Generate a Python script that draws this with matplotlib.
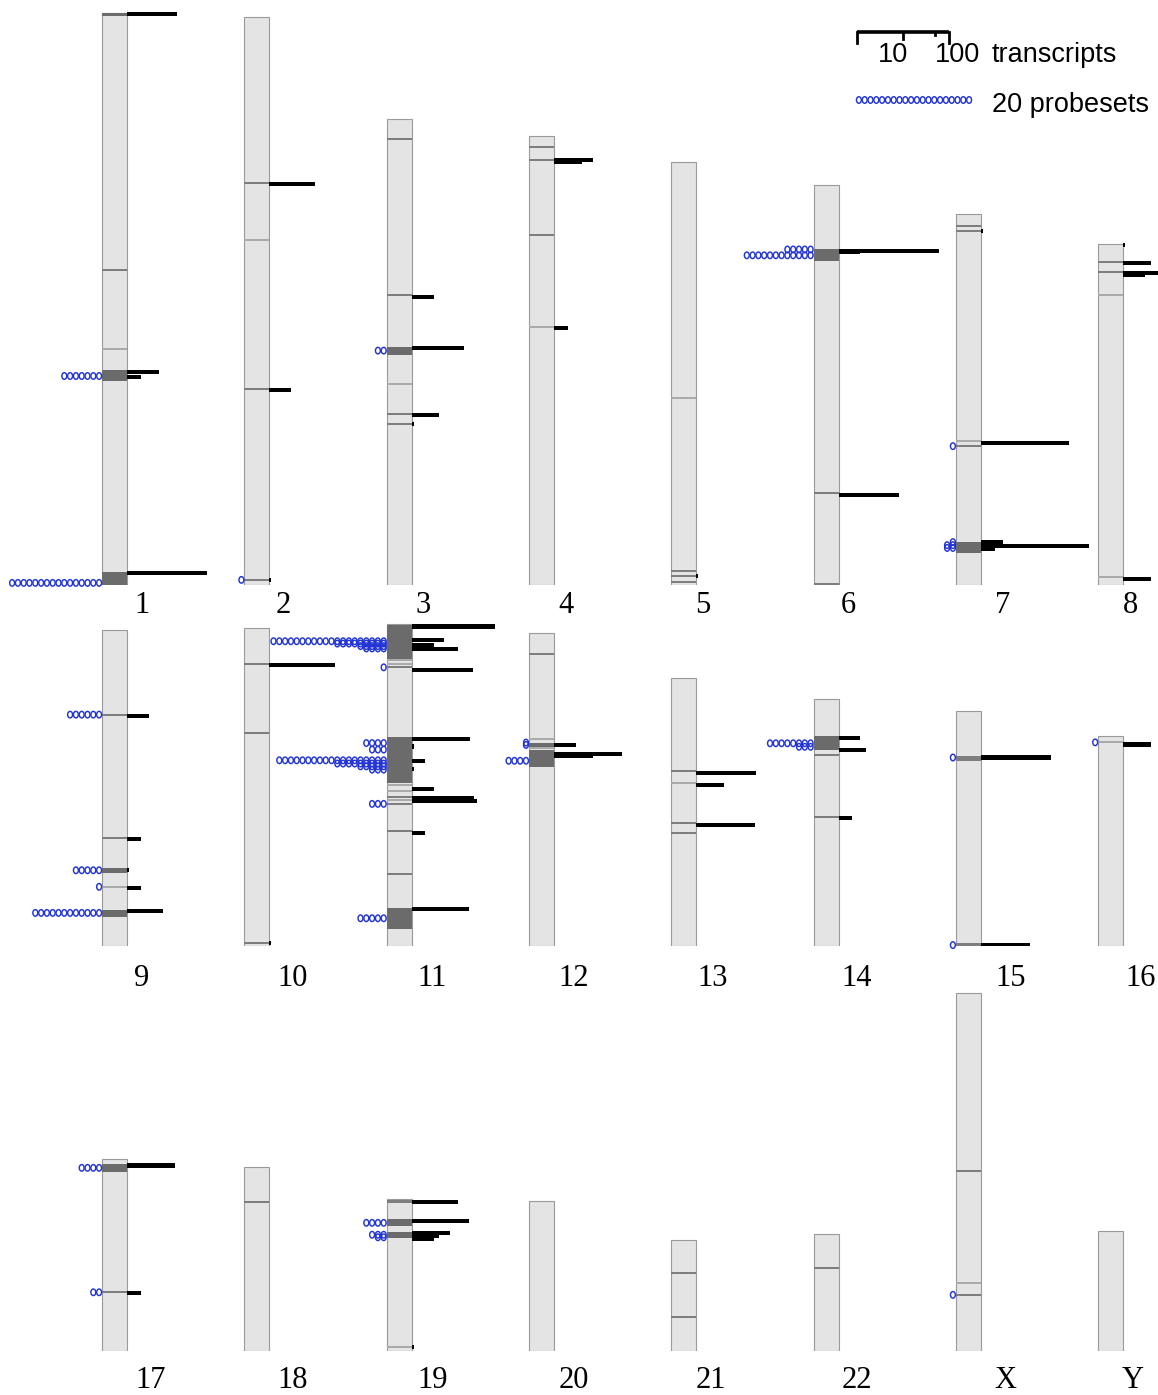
import numpy as np
import matplotlib
matplotlib.use('Agg')
import matplotlib.pyplot as plt
from matplotlib.path import Path
from matplotlib.transforms import Affine2D

# ---- data: chromosome sizes (Mb) and mapped loci (Mb from the top / p-ter) ----
CHROMS = ['1', '2', '3', '4', '5', '6', '7', '8',
          '9', '10', '11', '12', '13', '14', '15', '16',
          '17', '18', '19', '20', '21', '22', 'X', 'Y']
CHROM_LEN_MB = [245.5, 243.8, 200.0, 192.7, 181.5, 171.7, 159.2, 146.4,
                135.6, 136.5, 138.2, 134.3, 115.0, 106.0, 100.9, 90.1,
                82.4, 79.0, 65.2, 64.4, 47.6, 50.2, 153.6, 51.5]

# (chrom, start, end, tone)  tone: d = dark block, m = mid grey line, l = light line
BANDS = [
    ('1', 0, 1.3, 'd'), ('1', 110.3, 110.3, 'm'), ('1', 144.2, 144.2, 'l'),
    ('1', 153.2, 157.9, 'd'), ('1', 239.9, 245.5, 'd'),
    ('2', 71.4, 71.4, 'm'), ('2', 95.7, 95.7, 'l'), ('2', 159.8, 159.8, 'm'), ('2', 241.6, 241.6, 'm'),
    ('3', 8.7, 8.7, 'm'), ('3', 75.5, 75.5, 'm'), ('3', 97.7, 101.3, 'd'), ('3', 113.9, 113.9, 'l'),
    ('3', 126.7, 126.7, 'm'), ('3', 130.9, 130.9, 'm'),
    ('4', 4.9, 4.9, 'm'), ('4', 10.3, 10.3, 'm'), ('4', 42.4, 42.4, 'm'), ('4', 81.8, 81.8, 'l'),
    ('5', 101.3, 101.3, 'l'), ('5', 175.5, 175.5, 'm'), ('5', 177.7, 177.7, 'm'), ('5', 180.3, 180.3, 'm'),
    ('6', 27.5, 32.5, 'd'), ('6', 132.3, 132.3, 'm'), ('6', 171.0, 171.7, 'm'),
    ('7', 5.1, 5.1, 'm'), ('7', 7.1, 7.1, 'm'), ('7', 97.6, 97.6, 'l'), ('7', 99.6, 99.6, 'm'),
    ('7', 140.6, 145.6, 'd'),
    ('8', 7.6, 7.6, 'm'), ('8', 12.1, 12.1, 'm'), ('8', 21.8, 21.8, 'l'), ('8', 143.1, 143.1, 'l'),
    ('9', 36.3, 36.3, 'm'), ('9', 89.1, 89.1, 'm'), ('9', 102.0, 104.1, 'd'), ('9', 110.2, 110.2, 'l'),
    ('9', 120.3, 123.2, 'd'),
    ('10', 15.5, 15.5, 'm'), ('10', 45.2, 45.2, 'm'), ('10', 135.3, 135.3, 'm'),
    ('11', 0.4, 15.1, 'd'), ('11', 15.6, 15.6, 'l'), ('11', 17.3, 17.3, 'l'), ('11', 18.6, 18.6, 'm'),
    ('11', 48.4, 68.1, 'd'), ('11', 69.3, 69.3, 'l'), ('11', 71.7, 71.7, 'l'), ('11', 74.2, 74.2, 'm'),
    ('11', 75.6, 75.6, 'l'), ('11', 77.1, 77.1, 'm'), ('11', 89.0, 89.0, 'm'), ('11', 107.1, 107.1, 'm'),
    ('11', 121.7, 130.7, 'd'),
    ('12', 8.9, 8.9, 'm'), ('12', 45.6, 45.6, 'l'), ('12', 47.3, 49.2, 'd'), ('12', 49.5, 49.5, 'l'),
    ('12', 50.2, 57.4, 'd'),
    ('13', 40.1, 40.1, 'm'), ('13', 45.1, 45.1, 'l'), ('13', 62.3, 62.3, 'm'), ('13', 66.3, 66.3, 'm'),
    ('14', 15.9, 21.9, 'd'), ('14', 24.0, 24.0, 'm'), ('14', 50.5, 50.5, 'm'),
    ('15', 19.3, 21.3, 'm'), ('15', 99.7, 100.9, 'm'),
    ('16', 2.7, 2.7, 'l'),
    ('17', 2.1, 5.4, 'd'), ('17', 57.2, 57.2, 'm'),
    ('18', 15.0, 15.0, 'm'),
    ('19', 0.4, 1.7, 'm'), ('19', 8.6, 11.6, 'd'), ('19', 14.3, 16.9, 'd'), ('19', 62.9, 63.9, 'l'),
    ('21', 14.3, 14.3, 'm'), ('21', 33.2, 33.2, 'm'),
    ('22', 14.5, 14.5, 'm'),
    ('X', 76.3, 76.3, 'm'), ('X', 124.5, 124.5, 'l'), ('X', 129.5, 129.5, 'm'),
]

# (chrom, position, number of transcripts)
TRANSCRIPTS = [
    ('1', 0.6, 12), ('1', 154.1, 5), ('1', 156.2, 2), ('1', 240.3, 55),
    ('2', 71.7, 10), ('2', 160.1, 3), ('2', 241.6, 1),
    ('3', 76.3, 3), ('3', 98.4, 14), ('3', 127.0, 4), ('3', 130.9, 1),
    ('4', 10.3, 7), ('4', 11.3, 4), ('4', 82.4, 2),
    ('5', 177.7, 1),
    ('6', 28.3, 150), ('6', 28.9, 3), ('6', 133.0, 21),
    ('7', 7.1, 1), ('7', 98.3, 82), ('7', 141.0, 3), ('7', 142.4, 224), ('7', 143.6, 2),
    ('8', 0.4, 1), ('8', 8.2, 4), ('8', 12.6, 8), ('8', 13.3, 3), ('8', 143.8, 4),
    ('9', 36.8, 3), ('9', 89.7, 2), ('9', 103.1, 1), ('9', 110.6, 2), ('9', 120.7, 6),
    ('10', 15.9, 27), ('10', 135.3, 1),
    ('11', 1.1, 64), ('11', 6.9, 5), ('11', 9.1, 3), ('11', 10.6, 10), ('11', 19.6, 22),
    ('11', 49.2, 19), ('11', 52.6, 1), ('11', 58.9, 2), ('11', 62.3, 1), ('11', 70.7, 3),
    ('11', 74.6, 23), ('11', 76.0, 26), ('11', 89.6, 2), ('11', 122.4, 18),
    ('12', 48.1, 3), ('12', 51.9, 30), ('12', 52.8, 7),
    ('13', 40.6, 20), ('13', 45.8, 4), ('13', 63.0, 19),
    ('14', 16.7, 3), ('14', 22.0, 4), ('14', 51.1, 2),
    ('15', 20.0, 33), ('15', 100.5, 12),
    ('16', 3.6, 4),
    ('17', 2.8, 11), ('17', 57.6, 2),
    ('19', 1.4, 10), ('19', 9.4, 18), ('19', 14.7, 7), ('19', 15.8, 4), ('19', 17.0, 3), ('19', 63.5, 1),
]

# (chrom, position, number of probesets)
PROBESETS = [
    ('1', 155.8, 7), ('1', 244.6, 16),
    ('2', 241.6, 1),
    ('3', 99.4, 2),
    ('6', 30.2, 12), ('6', 27.7, 5),
    ('7', 99.6, 1), ('7', 140.8, 1), ('7', 142.1, 2), ('7', 143.3, 2),
    ('9', 36.3, 6), ('9', 103.1, 5), ('9', 110.2, 1), ('9', 121.4, 12),
    ('11', 7.4, 20), ('11', 8.4, 9), ('11', 9.5, 5), ('11', 10.5, 4), ('11', 18.6, 1),
    ('11', 51.1, 4), ('11', 53.9, 3), ('11', 58.5, 19), ('11', 59.9, 9), ('11', 61.1, 5),
    ('11', 62.5, 3), ('11', 77.2, 3), ('11', 126.3, 5),
    ('12', 47.0, 1), ('12', 48.0, 1), ('12', 54.8, 4),
    ('14', 19.0, 8), ('14', 20.5, 3),
    ('15', 20.0, 1), ('15', 100.5, 1),
    ('16', 2.7, 1),
    ('17', 3.8, 4), ('17', 57.2, 2),
    ('19', 10.2, 4), ('19', 15.3, 3), ('19', 16.4, 2),
    ('X', 129.5, 1),
]

# ---- layout (pixels on the 1158 x 1395 canvas) ----
FIG_W, FIG_H = 1158, 1395
PX_PER_MB = 2.33
SLOT_PX = 142.3            # distance between neighbouring chromosomes
FIRST_LEFT_PX = 102
CHROM_W_PX = 25
DECADE_PX = 46             # transcript bar length per factor 10
PROBE_STEP_PX = 5.8
PER_ROW = 8
ROWS_PX = [(0, 585), (600, 946), (975, 1351)]   # (top, baseline)
LABEL_DROP_PX = [20, 32, 29]
LABEL_DX_PX = [40, 39, 37, 37, 32, 35, 47, 32,
               40, 48, 45, 45, 41, 43, 55, 42,
               49, 48, 46, 45, 40, 43, 50, 35]

TONES = {'d': '#6b6b6b', 'm': '#7e7e7e', 'l': '#aaaaaa'}
PROBE_BLUE = '#2234d6'
LEGEND_FONT = dict(fontsize=19.5, family='Liberation Sans')

W = CHROM_W_PX / SLOT_PX
DEC = DECADE_PX / SLOT_PX
STEP = PROBE_STEP_PX / SLOT_PX
MIN_BAND = 2.0 / PX_PER_MB
BAR_H = 4.2 / PX_PER_MB

OVAL = Path.unit_circle().transformed(Affine2D().scale(0.75, 1.0))

fig = plt.figure(figsize=(FIG_W / 100, FIG_H / 100), dpi=100)


def make_row(top, base):
    ax = fig.add_axes([0, 1 - base / FIG_H, 1, (base - top) / FIG_H])
    ax.set_xlim(-FIRST_LEFT_PX / SLOT_PX, (FIG_W - FIRST_LEFT_PX) / SLOT_PX)
    ax.set_ylim(0, (base - top) / PX_PER_MB)
    ax.axis('off')
    return ax


axes = [make_row(t, b) for t, b in ROWS_PX]


def where(chrom):
    i = CHROMS.index(chrom)
    return axes[i // PER_ROW], i % PER_ROW, CHROM_LEN_MB[i]


def draw_probes(ax, x_right, y, n):
    xs = x_right - (np.arange(n) + 0.5) * STEP
    ax.scatter(xs, np.full(n, y), marker=OVAL, s=22, facecolors='none',
               edgecolors=PROBE_BLUE, linewidths=1.05, zorder=4, clip_on=False)


# chromosome bodies + labels
for i, name in enumerate(CHROMS):
    ax, slot, length = where(name)
    ax.bar(slot, length, width=W, align='edge', color='#e4e4e4',
           edgecolor='#9a9a9a', linewidth=0.8, zorder=1)
    row = i // PER_ROW
    ax.text(slot + LABEL_DX_PX[i] / SLOT_PX, -LABEL_DROP_PX[row] / PX_PER_MB, name,
            ha='center', va='center', fontsize=22, family='Liberation Serif', clip_on=False)

# bands
for chrom, start, end, tone in BANDS:
    ax, slot, length = where(chrom)
    y0, y1 = length - end, length - start
    if y1 - y0 < MIN_BAND:
        mid = (y0 + y1) / 2
        y0, y1 = mid - MIN_BAND / 2, mid + MIN_BAND / 2
    ax.bar(slot, y1 - y0, bottom=y0, width=W, align='edge',
           color=TONES[tone], linewidth=0, zorder=2)

# transcripts (log length)
for chrom, pos, n in TRANSCRIPTS:
    ax, slot, length = where(chrom)
    ln = max(np.log10(n) * DEC, 2.0 / SLOT_PX)
    ax.barh(length - pos, ln, left=slot + W, height=BAR_H, color='black', linewidth=0, zorder=3)

# probesets, right aligned on the chromosome's left edge
for chrom, pos, n in PROBESETS:
    ax, slot, length = where(chrom)
    draw_probes(ax, slot, length - pos, n)

# ---- legend (top right) ----
lax = axes[0]
base0 = ROWS_PX[0][1]


def px(x, y):
    return (x - FIRST_LEFT_PX) / SLOT_PX, (base0 - y) / PX_PER_MB


x0, y0 = px(857, 32)
lax.plot([x0, x0 + 2 * DEC], [y0, y0], color='black', lw=2.6, solid_capstyle='butt')
for v, drop in [(1, 11), (10, 7), (50, 3), (100, 11)]:
    xt = x0 + np.log10(v) * DEC
    lax.plot([xt, xt], [y0, y0 - drop / PX_PER_MB], color='black', lw=2.0)
_, yb = px(0, 62)
lax.text(x0 + DEC - 10 / SLOT_PX, yb, '10', ha='center', va='baseline', **LEGEND_FONT)
lax.text(x0 + 2 * DEC + 8 / SLOT_PX, yb, '100', ha='center', va='baseline', **LEGEND_FONT)
xt, _ = px(992, 0)
lax.text(xt, yb, 'transcripts', ha='left', va='baseline', **LEGEND_FONT)

xr, yp = px(972, 100)
draw_probes(lax, xr, yp, 20)
_, yb2 = px(0, 112)
lax.text(xt, yb2, '20 probesets', ha='left', va='baseline', **LEGEND_FONT)

fig.savefig('out.png', dpi=100)
